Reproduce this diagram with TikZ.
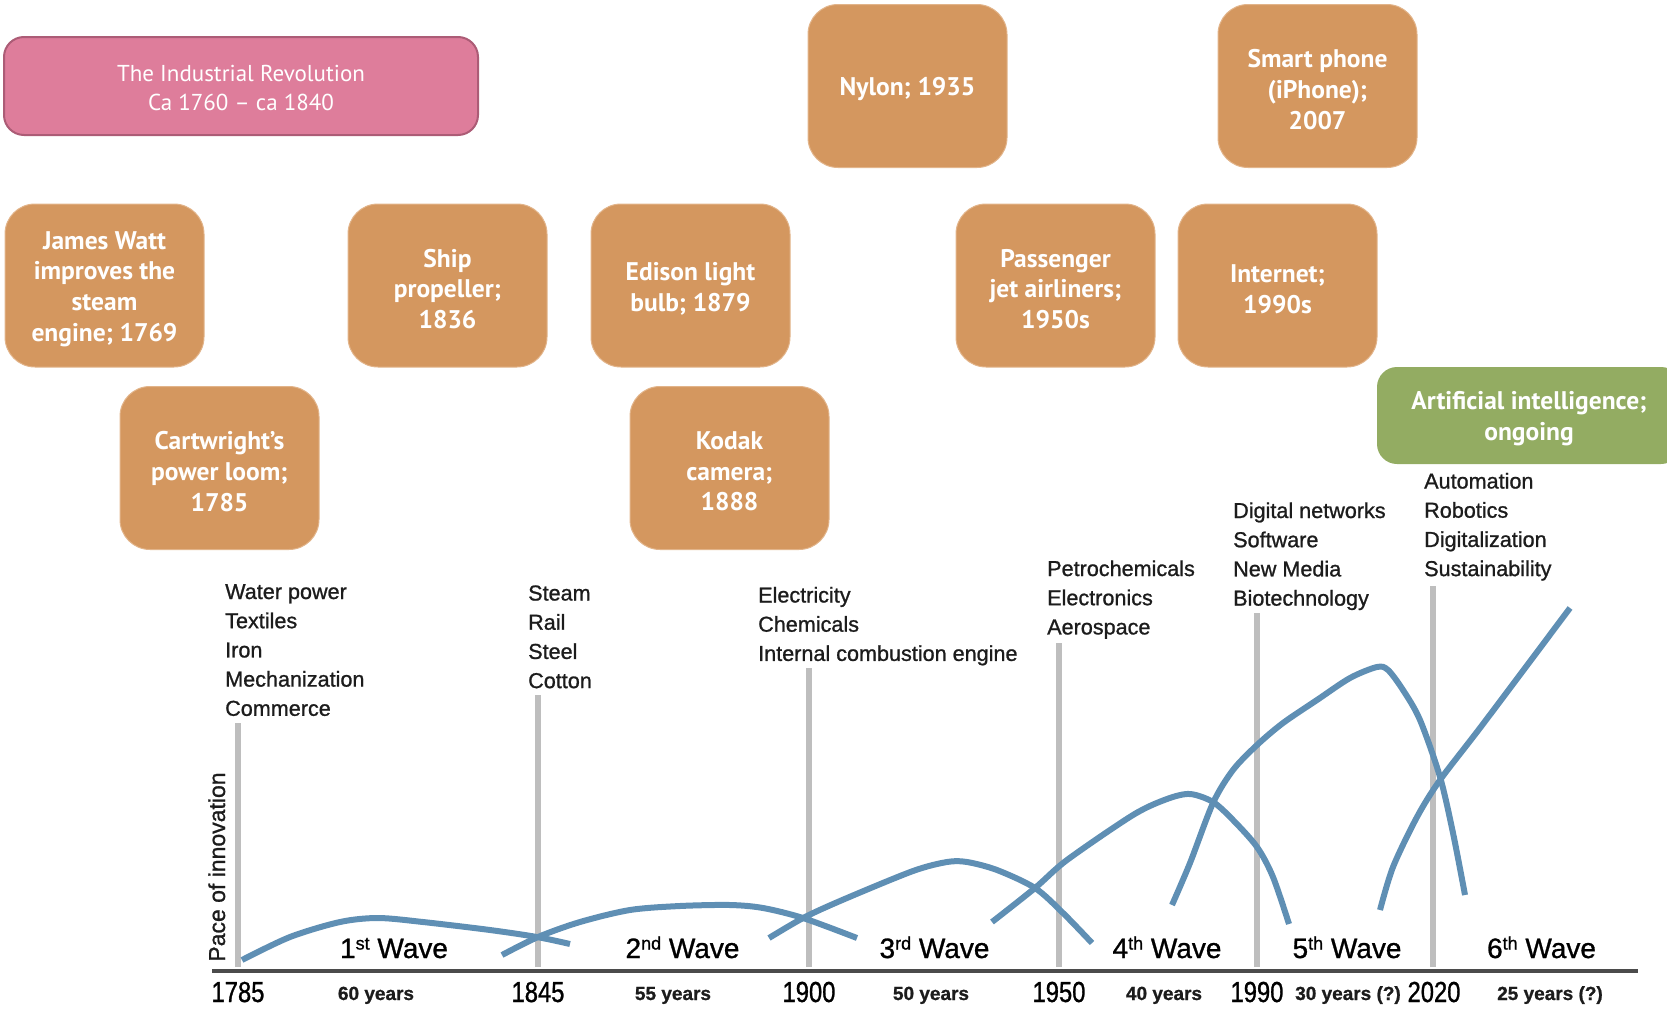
\documentclass[tikz,border=0pt]{standalone}
\usepackage{fontspec}
\setmainfont{PT Sans}
\newfontfamily\chartfont[FakeBold=1]{Liberation Sans}
\newfontfamily\narrowfont[FakeStretch=0.82,FakeBold=1]{Liberation Sans}
\definecolor{cardorange}{RGB}{212,151,95}
\definecolor{cardedge}{RGB}{226,180,138}
\definecolor{revpink}{RGB}{222,125,155}
\definecolor{revedge}{RGB}{172,92,118}
\definecolor{aigreen}{RGB}{147,172,98}
\definecolor{wavecol}{RGB}{95,143,180}
\definecolor{gridgrey}{RGB}{190,190,190}
\definecolor{axisgrey}{RGB}{75,75,75}
\definecolor{inkcol}{RGB}{28,28,28}
\newcommand\waveord[1]{\raisebox{8.5pt}{\fontsize{18}{18}\selectfont #1}}
\begin{document}
\begin{tikzpicture}[x=1pt,y=-1pt,
  card/.style={rounded corners=30pt, fill=cardorange, draw=cardedge, line width=1pt,
    minimum width=199pt, minimum height=163pt, inner sep=0pt},
  cardtxt/.style={inner sep=0pt, text=white, align=center,
    font=\bfseries\fontsize{25.5}{30.6}\selectfont},
  banner/.style={rounded corners=20pt, fill=revpink, draw=revedge, line width=2pt,
    minimum width=474pt, minimum height=98pt, inner sep=0pt},
  bannertxt/.style={inner sep=0pt, text=white, align=center,
    font=\fontsize{23}{28.4}\selectfont},
  aibox/.style={rounded corners=20pt, fill=aigreen, draw=none,
    minimum width=304pt, minimum height=97pt, inner sep=0pt},
  listtxt/.style={anchor=base west, inner sep=0pt, text=inkcol,
    font=\chartfont\fontsize{21.6}{21.6}\selectfont},
  wavelbl/.style={anchor=base, inner sep=0pt, text=black,
    font=\chartfont\fontsize{28}{28}\selectfont},
  yearlbl/.style={anchor=base, inner sep=0pt, text=black,
    font=\narrowfont\fontsize{29}{29}\selectfont},
  durlbl/.style={anchor=base, inner sep=0pt, text=inkcol,
    font=\chartfont\bfseries\fontsize{19}{19}\selectfont},
  gridline/.style={gridgrey, line width=6.5pt},
  axisline/.style={axisgrey, line width=4.5pt},
  wave/.style={wavecol, line width=6pt}
]
\useasboundingbox (0,0) rectangle (1667,1009);
\clip (0,0) rectangle (1667,1009);

% --- milestone cards: shape first, then its caption ---
\node[banner] (rev) at (241,86) {};
\node[bannertxt] (rev-t) at ([yshift=-2pt]rev.center) {The Industrial Revolution\\Ca 1760 -- ca 1840};
\node[card] (nylon) at (907.5,86) {};
\node[cardtxt] (nylon-t) at ([yshift=-3.5pt]nylon.center) {Nylon; 1935};
\node[card] (phone) at (1317.5,86) {};
\node[cardtxt] (phone-t) at ([yshift=-3.5pt]phone.center) {Smart phone\\(iPhone);\\2007};
\node[card] (watt) at (104.5,285.5) {};
\node[cardtxt] (watt-t) at ([yshift=-3.5pt]watt.center) {James Watt\\improves the\\steam\\engine; 1769};
\node[card] (ship) at (447.5,285.5) {};
\node[cardtxt] (ship-t) at ([yshift=-3.5pt]ship.center) {Ship\\propeller;\\1836};
\node[card] (edison) at (690.5,285.5) {};
\node[cardtxt] (edison-t) at ([yshift=-3.5pt]edison.center) {Edison light\\bulb; 1879};
\node[card] (jet) at (1055.5,285.5) {};
\node[cardtxt] (jet-t) at ([yshift=-3.5pt]jet.center) {Passenger\\jet airliners;\\1950s};
\node[card] (net) at (1277.5,285.5) {};
\node[cardtxt] (net-t) at ([yshift=-3.5pt]net.center) {Internet;\\1990s};
\node[card] (loom) at (219.5,468) {};
\node[cardtxt] (loom-t) at ([yshift=-3.5pt]loom.center) {Cartwright’s\\power loom;\\1785};
\node[card] (kodak) at (729.5,468) {};
\node[cardtxt] (kodak-t) at ([yshift=-3.5pt]kodak.center) {Kodak\\camera;\\1888};
\node[aibox] (ai) at (1529,415.5) {};
\node[cardtxt] (ai-t) at ([yshift=-3pt]ai.center) {Artificial intelligence;\\ongoing};

% --- period markers ---
\draw[gridline] (238,967) -- (238,723);
\draw[gridline] (538,967) -- (538,695);
\draw[gridline] (809,967) -- (809,668);
\draw[gridline] (1059,967) -- (1059,643);
\draw[gridline] (1257,967) -- (1257,613);
\draw[gridline] (1433,967) -- (1433,586);

% --- time axis ---
\draw[axisline] (212,971) -- (1638,971);

% --- innovation waves ---
\draw[wave] plot[smooth] coordinates {(242,960) (290,937) (340,922) (378,918) (423,922) (490,930) (537,937) (570,944)};
\draw[wave] plot[smooth] coordinates {(502,955) (538,937) (580,922) (630,910) (680,906) (730,905) (763,908) (803,918) (857,938)};
\draw[wave] plot[smooth] coordinates {(769,938) (805,917) (847,898) (913,871) (947,862) (967,862) (997,870) (1035,888) (1063,913) (1092,943)};
\draw[wave] plot[smooth] coordinates {(992,922) (1035,888) (1067,860) (1133,815) (1167,799) (1190,794) (1213,802) (1233,820) (1257,847) (1273,877) (1289,924)};
\draw[wave] plot[smooth] coordinates {(1172,905) (1190,863) (1213,803) (1233,770) (1257,745) (1283,723) (1317,700) (1350,678) (1377,667) (1388,670) (1403,690) (1420,720) (1440,777) (1453,833) (1465,895)};
\draw[wave] plot[smooth] coordinates {(1380,910) (1393,867) (1417,817) (1440,780) (1483,724) (1570,608)};

% --- technology lists ---
\foreach \t [count=\i from 0] in {Water power,Textiles,Iron,Mechanization,Commerce}
  \node[listtxt] (la\i) at (225,{599+29.2*\i}) {\t};
\foreach \t [count=\i from 0] in {Steam,Rail,Steel,Cotton}
  \node[listtxt] (lb\i) at (528,{600.5+29.2*\i}) {\t};
\foreach \t [count=\i from 0] in {Electricity,Chemicals,Internal combustion engine}
  \node[listtxt] (lc\i) at (758,{602.5+29.2*\i}) {\t};
\foreach \t [count=\i from 0] in {Petrochemicals,Electronics,Aerospace}
  \node[listtxt] (ld\i) at (1047,{576+29.2*\i}) {\t};
\foreach \t [count=\i from 0] in {Digital networks,Software,New Media,Biotechnology}
  \node[listtxt] (le\i) at (1233,{518+29.2*\i}) {\t};
\foreach \t [count=\i from 0] in {Automation,Robotics,Digitalization,Sustainability}
  \node[listtxt] (lf\i) at (1424,{488.5+29.2*\i}) {\t};

% --- vertical axis title ---
\node[rotate=90, anchor=base, inner sep=0pt, text=inkcol,
  font=\chartfont\fontsize{23}{23}\selectfont] (pace) at (225,867) {Pace of innovation};

% --- wave names ---
\node[wavelbl] (w1) at (394,958) {1\waveord{st} Wave};
\node[wavelbl] (w2) at (682.5,958) {2\waveord{nd} Wave};
\node[wavelbl] (w3) at (934.5,958) {3\waveord{rd} Wave};
\node[wavelbl] (w4) at (1167,958) {4\waveord{th} Wave};
\node[wavelbl] (w5) at (1347,958) {5\waveord{th} Wave};
\node[wavelbl] (w6) at (1541.5,958) {6\waveord{th} Wave};

% --- years and durations ---
\node[yearlbl] (y1) at (238,1002) {1785};
\node[yearlbl] (y2) at (538,1002) {1845};
\node[yearlbl] (y3) at (809,1002) {1900};
\node[yearlbl] (y4) at (1059,1002) {1950};
\node[yearlbl] (y5) at (1257,1002) {1990};
\node[yearlbl] (y6) at (1434,1002) {2020};
\node[durlbl] (d1) at (376,1000) {60 years};
\node[durlbl] (d2) at (673,1000) {55 years};
\node[durlbl] (d3) at (931,1000) {50 years};
\node[durlbl] (d4) at (1164,1000) {40 years};
\node[durlbl] (d5) at (1348,1000) {30 years (?)};
\node[durlbl] (d6) at (1550,1000) {25 years (?)};
\end{tikzpicture}
\end{document}
